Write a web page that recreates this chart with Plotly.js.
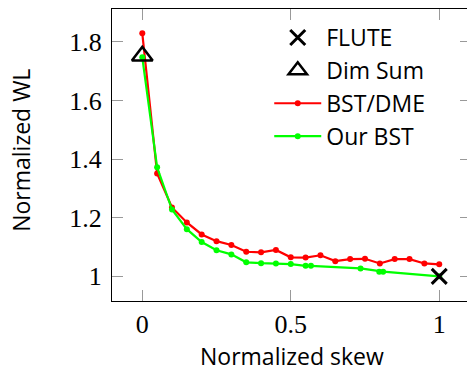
<!DOCTYPE html>
<html><head><meta charset="utf-8">
<script src="https://cdn.plot.ly/plotly-3.0.1.min.js"></script>
<style>html,body{margin:0;padding:0;overflow:hidden;background:#fff}#chart{width:471px;height:372px}</style>
</head><body><div id="chart"></div>
<script>
const bstDmeX = [0, 0.05, 0.1, 0.15, 0.2, 0.25, 0.3, 0.35, 0.4, 0.45, 0.5, 0.55, 0.6, 0.65, 0.7, 0.75, 0.8, 0.85, 0.9, 0.95, 1.0];
const bstDmeY = [1.829, 1.351, 1.235, 1.184, 1.143, 1.120, 1.107, 1.084, 1.082, 1.090, 1.065, 1.064, 1.072, 1.052, 1.059, 1.060, 1.044, 1.059, 1.059, 1.044, 1.041];
const ourBstX = [0, 0.05, 0.1, 0.15, 0.2, 0.25, 0.3, 0.35, 0.4, 0.45, 0.5, 0.55, 0.568, 0.735, 0.798, 0.811, 1.0];
const ourBstY = [1.747, 1.372, 1.228, 1.161, 1.117, 1.089, 1.075, 1.048, 1.045, 1.044, 1.042, 1.036, 1.036, 1.027, 1.016, 1.016, 1.0];
const fluteX = [1];
const fluteY = [1];
const dimSumX = [0];
const dimSumY = [1.752];
const xTickVals = [0, 0.5, 1];
const xTickText = ['0', '0.5', '1'];
const yTickVals = [1, 1.2, 1.4, 1.6, 1.8];
const yTickText = ['1', '1.2', '1.4', '1.6', '1.8'];
const xTitle = 'Normalized skew';
const yTitle = 'Normalized WL';

const sans = 'Open Sans, sans-serif';
const serif = 'Liberation Serif, serif';

const traces = [
  {x: bstDmeX, y: bstDmeY, name: 'BST/DME', mode: 'lines+markers', legendrank: 3,
   line: {color: '#ff0000', width: 2.2}, marker: {color: '#ff0000', size: 6}},
  {x: ourBstX, y: ourBstY, name: 'Our BST', mode: 'lines+markers', legendrank: 4,
   line: {color: '#00ff00', width: 2.2}, marker: {color: '#00ff00', size: 6}},
  {x: fluteX, y: fluteY, name: 'FLUTE', mode: 'markers', legendrank: 1,
   marker: {symbol: 'x-thin-open', size: 15, color: '#000', line: {color: '#000', width: 3}}},
  {x: dimSumX, y: dimSumY, name: 'Dim Sum', mode: 'markers', legendrank: 2,
   marker: {symbol: 'triangle-up-open', size: 18, color: '#000', line: {color: '#000', width: 2.5}}}
];

const axisCommon = {
  showline: true, linecolor: '#000', linewidth: 1, mirror: 'ticks',
  ticks: 'inside', ticklen: 11, tickcolor: '#999', tickwidth: 1,
  showgrid: false, zeroline: false,
  tickfont: {family: serif, size: 26, color: '#000'}
};

const layout = {
  width: 471, height: 372,
  margin: {l: 112, r: 0, t: 9, b: 71},
  paper_bgcolor: '#fff', plot_bgcolor: '#fff',
  showlegend: true,
  xaxis: Object.assign({}, axisCommon, {range: [-0.102, 1.107], tickvals: xTickVals, ticktext: xTickText, ticklabelstandoff: 0}),
  yaxis: Object.assign({}, axisCommon, {range: [0.916, 1.912], tickvals: yTickVals, ticktext: yTickText, ticklabelstandoff: 4}),
  legend: {x: 0.438, y: 0.976, xanchor: 'left', yanchor: 'top', bgcolor: 'rgba(0,0,0,0)', itemwidth: 47,
           font: {family: sans, size: 23, color: '#000'}},
  annotations: [
    {text: xTitle, xref: 'paper', yref: 'paper', x: 0.5, y: -0.187, xanchor: 'center', yanchor: 'middle',
     borderpad: 0, showarrow: false, font: {family: sans, size: 23, color: '#000'}},
    {text: yTitle, xref: 'paper', yref: 'paper', x: -0.254, y: 0.517, xanchor: 'center', yanchor: 'middle',
     textangle: -90, showarrow: false, font: {family: sans, size: 23, color: '#000'}}
  ]
};

Plotly.newPlot('chart', traces, layout, {displayModeBar: false, staticPlot: true});
</script>
</body></html>
